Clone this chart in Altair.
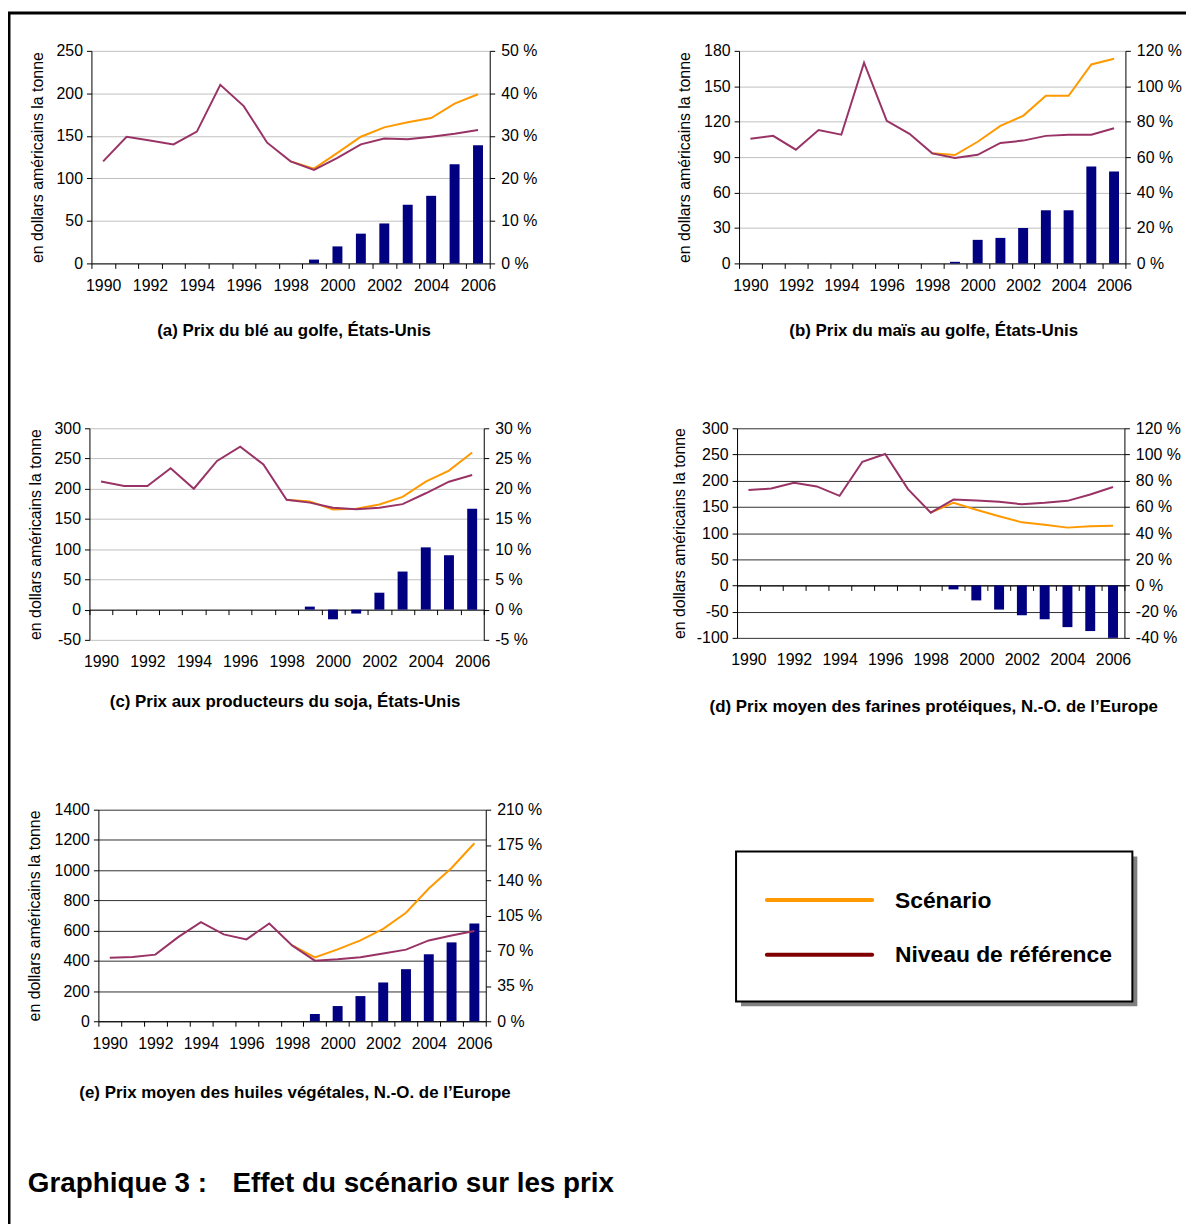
import altair as alt
import pandas as pd

FONT = "Liberation Sans, Arial, sans-serif"
W, H = 1186, 1220

years = list(range(1990, 2007))
scen_years = list(range(1998, 2007))
pct_years = list(range(1999, 2007))

# (a) blé
ble_ref = [120, 149, 144.5, 140, 155, 210, 185, 142, 120, 110, 124, 140, 147, 146, 149, 152.5, 157]
ble_scen = [120, 111.5, 130, 149, 160, 166, 171, 188, 199]
ble_pct = [0.9, 4.0, 7.0, 9.4, 13.8, 15.9, 23.3, 27.8]
# (b) maïs
mais_ref = [105.5, 108, 96.3, 113, 109, 170, 120.7, 109.7, 93.2, 89.3, 92, 102, 104, 108, 109, 109, 114.5]
mais_scen = [93.2, 91.8, 103, 116.5, 125, 142, 142, 168.5, 173.3]
mais_pct = [0.9, 13.3, 14.4, 20, 30, 30, 54.7, 51.9]
# (c) soja
soja_ref = [212, 204.5, 204.5, 234, 200, 246, 269.6, 240, 181.6, 177, 168.4, 166, 168.4, 174.5, 192.5, 211.6, 222.6]
soja_scen = [181.6, 178.8, 165.7, 166.8, 174, 186.5, 211.6, 230, 259.8]
soja_pct = [0.5, -1.6, -0.65, 2.8, 6.3, 10.3, 9.0, 16.7]
# (d) farines protéiques
farine_ref = [182, 185, 196, 189, 171, 236, 251, 184, 139, 164, 162, 159.6, 155, 157.7, 161.5, 173.5, 188]
farine_scen = [139, 158, 144.5, 132, 120.5, 116, 110.4, 113, 114]
farine_pct = [-3, -11.4, -18.4, -22.7, -25.8, -31.8, -34.8, -40]
# (e) huiles végétales
huile_ref = [421, 426, 441, 557, 656, 575, 542, 647, 502, 401, 410, 423, 448, 474, 535, 568, 597]
huile_scen = [502, 423, 476, 535, 612, 718, 878, 1014, 1178]
huile_pct = [7.2, 15.1, 25, 38.5, 51.7, 66.5, 78.3, 97.1]

ticks_a_left = [0, 50, 100, 150, 200, 250]
ticks_a_right = [0, 10, 20, 30, 40, 50]
ticks_b_left = [0, 30, 60, 90, 120, 150, 180]
ticks_b_right = [0, 20, 40, 60, 80, 100, 120]
ticks_c_left = [-50, 0, 50, 100, 150, 200, 250, 300]
ticks_c_right = [-5, 0, 5, 10, 15, 20, 25, 30]
ticks_d_left = [-100, -50, 0, 50, 100, 150, 200, 250, 300]
ticks_d_right = [-40, -20, 0, 20, 40, 60, 80, 100, 120]
ticks_e_left = [0, 200, 400, 600, 800, 1000, 1200, 1400]
ticks_e_right = [0, 35, 70, 105, 140, 175, 210]

titles = [
    "(a) Prix du blé au golfe, États-Unis",
    "(b) Prix du maïs au golfe, États-Unis",
    "(c) Prix aux producteurs du soja, États-Unis",
    "(d) Prix moyen des farines protéiques, N.-O. de l’Europe",
    "(e) Prix moyen des huiles végétales, N.-O. de l’Europe",
]
y_title = "en dollars américains la tonne"
legend_labels = ["Scénario", "Niveau de référence"]
main_title = ["Graphique 3 :", "Effet du scénario sur les prix"]

C_SCEN = "#FF9900"
C_REF = "#993366"
C_BAR = "#000080"


def panel(ref, scen, pct, tl, tr, x0, x1, yt, yb, grid_color, title_dx):
    lmin, lmax = tl[0], tl[-1]
    pmin, pmax = tr[0], tr[-1]
    y_zero = yb - (0 - lmin) / (lmax - lmin) * (yb - yt)
    xband = alt.Scale(type="band", domain=years, range=[x0, x1], paddingInner=0, paddingOuter=0)
    xpoint = alt.Scale(type="point", domain=years, range=[x0, x1], padding=0.5)
    yl = alt.Scale(domain=[lmin, lmax], range=[yb, yt], nice=False, zero=False)
    yr = alt.Scale(domain=[pmin, pmax], range=[yb, yt], nice=False, zero=False)

    df_bar = pd.DataFrame({"year": pct_years, "pct": pct})
    df_scen = pd.DataFrame({"year": scen_years, "v": scen})
    df_ref = pd.DataFrame({"year": years, "v": ref})

    bars = alt.Chart(df_bar).mark_bar(width=10, color=C_BAR).encode(
        x=alt.X("year:O", scale=xband, axis=alt.Axis(
            orient="bottom", offset=y_zero - H, labels=False, title=None,
            domain=True, domainColor="black", domainWidth=1,
            ticks=True, tickBand="extent", tickSize=5, tickColor="black", grid=False)),
        y=alt.Y("pct:Q", scale=yr, axis=alt.Axis(
            orient="right", offset=x1 - W, values=tr, labelExpr="datum.value + ' %'",
            title=None, grid=False, domainColor="black", tickColor="black", tickSize=5,
            labelPadding=6, labelFontSize=16, labelColor="black", labelFont=FONT)),
        y2=alt.datum(0),
    )
    scen_line = alt.Chart(df_scen).mark_line(color=C_SCEN, strokeWidth=2).encode(
        x=alt.X("year:O", scale=xpoint, axis=None),
        y=alt.Y("v:Q", scale=yl, axis=None),
    )
    ref_line = alt.Chart(df_ref).mark_line(color=C_REF, strokeWidth=2).encode(
        x=alt.X("year:O", scale=xpoint, axis=alt.Axis(
            orient="bottom", offset=yb - H, domain=False, ticks=False, tickSize=0,
            labelPadding=14, labelAngle=0, labelFontSize=16, labelColor="black", labelFont=FONT,
            labelExpr="datum.value % 2 == 0 ? datum.label : ''", title=None, grid=False)),
        y=alt.Y("v:Q", scale=yl, axis=alt.Axis(
            orient="left", offset=-x0, values=tl, labelExpr="'' + datum.value",
            grid=True, gridColor=grid_color, gridWidth=1,
            domainColor="black", tickColor="black", tickSize=5, labelPadding=4,
            labelFontSize=16, labelColor="black", labelFont=FONT,
            title=y_title, titleX=title_dx, titleY=(yt + yb) / 2, titleAngle=270,
            titleBaseline="middle", titleAlign="center", titleFontSize=16,
            titleFontWeight="normal", titleColor="black", titleFont=FONT)),
    )
    return [bars, scen_line, ref_line]


one = pd.DataFrame({"k": [0]})


def text(s, x, y, size, align="left"):
    return alt.Chart(one).mark_text(
        text=s, fontSize=size, fontWeight="bold", font=FONT, align=align,
        baseline="middle", color="black").encode(x=alt.value(x), y=alt.value(y))


def rule(x, x2, y, y2, color, width, cap="butt"):
    enc = {"x": alt.value(x), "y": alt.value(y)}
    if x2 is not None:
        enc["x2"] = alt.value(x2)
    if y2 is not None:
        enc["y2"] = alt.value(y2)
    return alt.Chart(one).mark_rule(color=color, strokeWidth=width, strokeCap=cap).encode(**enc)


def rect(x, x2, y, y2, fill, stroke=None, sw=0):
    kw = {"fill": fill, "strokeWidth": sw}
    if stroke is not None:
        kw["stroke"] = stroke
    return alt.Chart(one).mark_rect(**kw).encode(
        x=alt.value(x), x2=alt.value(x2), y=alt.value(y), y2=alt.value(y2))


layers = []
layers += panel(ble_ref, ble_scen, ble_pct, ticks_a_left, ticks_a_right, 84, 485, 39, 253, "#c0c0c0", -54)
layers += panel(mais_ref, mais_scen, mais_pct, ticks_b_left, ticks_b_right, 736, 1125, 39, 253, "#c0c0c0", -55)
layers += panel(soja_ref, soja_scen, soja_pct, ticks_c_left, ticks_c_right, 82, 479, 419, 632, "#c0c0c0", -54)
layers += panel(farine_ref, farine_scen, farine_pct, ticks_d_left, ticks_d_right, 734, 1124, 419, 630, "#303030", -58)
layers += panel(huile_ref, huile_scen, huile_pct, ticks_e_left, ticks_e_right, 91, 481, 803, 1016, "#303030", -64)

# panel titles
layers += [
    text(titles[0], 288, 321, 17, "center"),
    text(titles[1], 932, 321, 17, "center"),
    text(titles[2], 279, 695, 17, "center"),
    text(titles[3], 932, 700, 17, "center"),
    text(titles[4], 289, 1088, 17, "center"),
]

# legend box
layers += [
    rect(738, 1137, 850, 1001, "#808080"),
    rect(733, 1132, 845, 996, "white", "black", 2),
    rule(764, 870, 894, None, C_SCEN, 4, "round"),
    rule(764, 870, 949, None, "#800000", 4, "round"),
    text(legend_labels[0], 893, 895, 23),
    text(legend_labels[1], 893, 949, 23),
]

# main title
layers += [text(main_title[0], 20, 1180, 28), text(main_title[1], 226, 1180, 28)]

# page frame
layers += [rule(0, W, 1, None, "black", 3), rule(1, None, 0, H, "black", 3)]

chart = alt.layer(*layers).resolve_scale(
    x="independent", y="independent"
).resolve_axis(
    x="independent", y="independent"
).properties(
    width=W, height=H, padding=0, autosize=alt.AutoSizeParams(type="none")
).configure_view(strokeWidth=0)

chart.save("out.html", embed_options={"renderer": "svg", "actions": False})
